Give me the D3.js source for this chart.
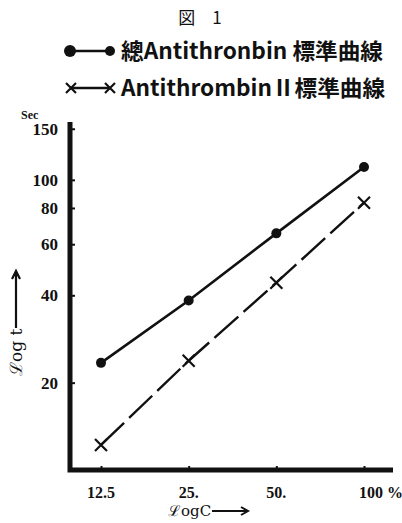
<!DOCTYPE html>
<html>
<head>
<meta charset="utf-8">
<script src="https://cdn.jsdelivr.net/npm/d3@7"></script>
<style>
  body { margin: 0; background: #fff; }
  svg { display: block; }
  .num { font-family: "Liberation Serif", "DejaVu Serif", serif; font-weight: bold; }
  .jp { font-family: "Noto Sans CJK JP", sans-serif; }
</style>
</head>
<body>
<svg id="chart" width="402" height="523"></svg>
<script>
// concentration (%), x axis on log scale
const concentrations = [12.5, 25, 50, 100];
const xTickLabels = ["12.5", "25.", "50.", "100 %"];
// clotting time (sec)
const totalAntithrombin = [23.4, 38.4, 65.4, 110.8];
const antithrombinII = [12.2, 23.8, 44.2, 83.4];
const yTicks = [20, 40, 60, 80, 100, 150];

const svg = d3.select("#chart");
const ink = "#111";

const x = d3.scaleLog().base(2).domain([12.5, 100]).range([101, 364]);
const y = d3.scaleLog().domain([10, 157]).range([470, 123]);

// title
svg.append("text").attr("class", "jp")
    .attr("x", 200).attr("y", 24)
    .attr("text-anchor", "middle")
    .attr("font-size", 17).attr("fill", ink)
    .text("図　1");

// legend
const legendRows = [
    { y: 51, type: "circle", label: "總Antithronbin 標準曲線", len: 262 },
    { y: 88, type: "cross", label: "AntithrombinⅡ標準曲線", len: 264 }
];

function drawCross(g, cx, cy, s) {
    g.append("path")
        .attr("d", `M${cx - s},${cy - s}L${cx + s},${cy + s}M${cx - s},${cy + s}L${cx + s},${cy - s}`)
        .attr("stroke", ink).attr("stroke-width", 2.2).attr("fill", "none");
}

legendRows.forEach(r => {
    const g = svg.append("g");
    g.append("line")
        .attr("x1", 70).attr("x2", 110).attr("y1", r.y).attr("y2", r.y)
        .attr("stroke", ink).attr("stroke-width", 2.5);
    if (r.type === "circle") {
        g.append("circle").attr("cx", 70).attr("cy", r.y).attr("r", 6).attr("fill", ink);
        g.append("circle").attr("cx", 110).attr("cy", r.y).attr("r", 5).attr("fill", ink);
    } else {
        drawCross(g, 71, r.y, 5);
        drawCross(g, 110, r.y, 5);
    }
    g.append("text").attr("class", "jp")
        .attr("x", 121).attr("y", r.y + 8)
        .attr("font-size", 22).attr("font-weight", "bold").attr("fill", ink)
        .attr("textLength", r.len).attr("lengthAdjust", "spacingAndGlyphs")
        .text(r.label);
});

// axes
const yAxis = svg.append("g").attr("transform", "translate(70,0)")
    .call(d3.axisRight(y).tickValues(yTicks).tickSize(5).tickFormat(""));
yAxis.select(".domain").remove();
yAxis.selectAll(".tick line").attr("stroke", ink).attr("stroke-width", 2);

const xAxis = svg.append("g").attr("transform", "translate(0,470)")
    .call(d3.axisTop(x).tickValues(concentrations).tickSize(4).tickFormat(""));
xAxis.select(".domain").remove();
xAxis.selectAll(".tick line").attr("stroke", ink).attr("stroke-width", 2);

svg.append("path")
    .attr("d", "M70,122L70,470L393,470")
    .attr("stroke", ink).attr("stroke-width", 5).attr("fill", "none");

// y tick labels
svg.append("g").selectAll("text").data(yTicks).join("text")
    .attr("class", "num")
    .attr("x", 58).attr("y", d => y(d) + 6)
    .attr("text-anchor", "end")
    .attr("font-size", 17).attr("fill", ink)
    .text(d => d);

svg.append("text").attr("class", "num")
    .attr("x", 21).attr("y", 119)
    .attr("font-size", 12).attr("fill", ink)
    .text("Sec");

// x tick labels
svg.append("g").selectAll("text").data(concentrations).join("text")
    .attr("class", "num")
    .attr("x", (d, i) => x(d) + (i === 3 ? 17 : 0)).attr("y", 498)
    .attr("text-anchor", "middle")
    .attr("font-size", 16).attr("fill", ink)
    .text((d, i) => xTickLabels[i]);

// axis titles
svg.append("text")
    .attr("x", 168).attr("y", 516)
    .attr("font-family", "DejaVu Serif, serif")
    .attr("font-size", 15).attr("fill", ink)
    .text("ℒogC");
svg.append("path")
    .attr("d", "M212,511L247,511M241,507L248,511L241,515")
    .attr("stroke", ink).attr("stroke-width", 2).attr("fill", "none");

svg.append("text")
    .attr("transform", "translate(22,376) rotate(-90)")
    .attr("font-family", "DejaVu Serif, serif")
    .attr("font-size", 17).attr("fill", ink)
    .text("ℒog t");
svg.append("path")
    .attr("d", "M16,328L16,272M12,279L16,271L20,279")
    .attr("stroke", ink).attr("stroke-width", 2.2).attr("fill", "none");

// series
const line = d3.line().x(d => x(d[0])).y(d => y(d[1]));
const totalPts = concentrations.map((c, i) => [c, totalAntithrombin[i]]);
const iiPts = concentrations.map((c, i) => [c, antithrombinII[i]]);

svg.append("path").datum(totalPts)
    .attr("d", line)
    .attr("stroke", ink).attr("stroke-width", 2.6).attr("fill", "none");
svg.append("g").selectAll("circle").data(totalPts).join("circle")
    .attr("cx", d => x(d[0])).attr("cy", d => y(d[1]))
    .attr("r", 5).attr("fill", ink);

svg.append("path").datum(iiPts)
    .attr("d", line)
    .attr("stroke", ink).attr("stroke-width", 2.4).attr("fill", "none")
    .attr("stroke-dasharray", "32,7");
const crosses = svg.append("g");
iiPts.forEach(d => drawCross(crosses, x(d[0]), y(d[1]), 6));
</script>
</body>
</html>
